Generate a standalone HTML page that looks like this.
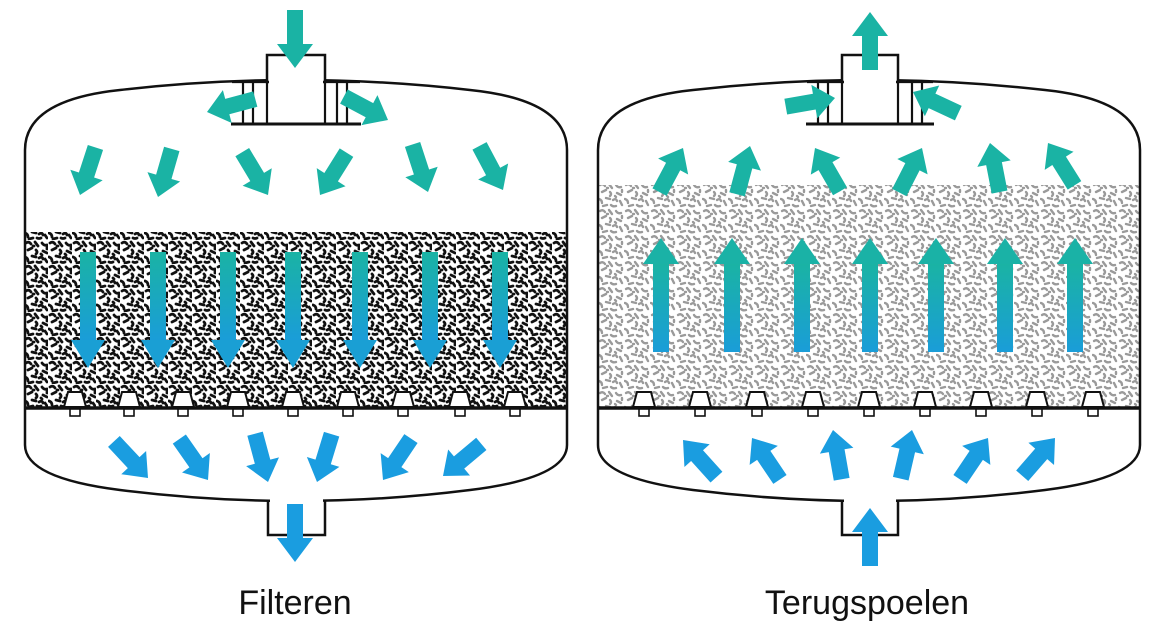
<!DOCTYPE html>
<html><head><meta charset="utf-8"><style>
html,body{margin:0;padding:0;background:#fff;}
svg{display:block}
</style></head><body>
<svg width="1170" height="627" viewBox="0 0 1170 627" xmlns="http://www.w3.org/2000/svg">
<defs>
<pattern id="pd" width="24" height="24" patternUnits="userSpaceOnUse">
<g fill="none" stroke="#111" stroke-width="2.8" stroke-linecap="round">
<path d="M2,3 q3,-2 5,1"/><path d="M11,2 l3,4"/><path d="M18,3 q2,3 5,2"/><path d="M4,10 l4,-2"/>
<path d="M12,10 q2,2 0,4"/><path d="M19,11 l4,2"/><path d="M1,17 q3,1 3,4"/><path d="M8,16 l4,1"/>
<path d="M15,18 q3,-2 4,1"/><path d="M21,19 l2,3"/><path d="M5,23 l4,-1"/><path d="M13,22 q2,1 4,0"/>
<path d="M9,6 l1,0"/><path d="M23,7 l0,2"/><path d="M17,14 l1,1"/>
</g></pattern>
<pattern id="pl" width="26" height="26" patternUnits="userSpaceOnUse">
<g fill="none" stroke="#9a9a9a" stroke-width="2.4" stroke-linecap="round">
<path d="M2,3 q3,-2 5,1"/><path d="M11,2 l3,4"/><path d="M18,3 q2,3 5,2"/><path d="M4,10 l4,-2"/>
<path d="M12,10 q2,2 0,4"/><path d="M19,11 l4,2"/><path d="M1,17 q3,1 3,4"/><path d="M8,16 l4,1"/>
<path d="M15,18 q3,-2 4,1"/><path d="M22,19 l2,4"/><path d="M5,24 l4,-1"/><path d="M13,23 q2,2 5,1"/>
<path d="M9,6 l1,0"/><path d="M24,8 l0,2"/><path d="M17,14 l1,1"/>
</g></pattern>
<linearGradient id="gd" x1="0" y1="0" x2="0" y2="1"><stop offset="0" stop-color="#1ab3a4"/><stop offset="1" stop-color="#1a9dd8"/></linearGradient>
<linearGradient id="gu" x1="0" y1="1" x2="0" y2="0"><stop offset="0" stop-color="#1a9dd8"/><stop offset="1" stop-color="#1ab3a4"/></linearGradient>
<polygon id="s" points="-50,-8 -21,-8 -21,-17 0,0 -21,17 -21,8 -50,8"/>
<polygon id="sl" points="-58,-8 -24,-8 -24,-18 0,0 -24,18 -24,8 -58,8"/>
<g id="ld"><rect x="-8" y="0" width="16" height="88" fill="url(#gd)"/><polygon points="-17,88 17,88 0,116" fill="#1a9fd4"/></g>
<g id="lu"><rect x="-8" y="26" width="16" height="88" fill="url(#gu)"/><polygon points="-18,26 18,26 0,0" fill="#1ab2a6"/></g>
<g id="nz"><polygon points="-11,407 11,407 7,392 -7,392" fill="#fff" stroke="#111" stroke-width="2"/><rect x="-5" y="409" width="10" height="7" fill="#fff" stroke="#111" stroke-width="1.6"/></g>
</defs>

<!-- LEFT TANK -->
<rect x="25" y="232" width="542" height="176" fill="url(#pd)"/>
<path d="M25,445 V150 Q25,100 120,90 Q295,70 470,90 Q567,100 567,150 V445 Q567,478 470,490 Q295,512 120,490 Q25,478 25,445 Z" fill="none" stroke="#111" stroke-width="2.5"/>
<rect x="267" y="55" width="58" height="27" fill="#fff" stroke="#111" stroke-width="2.5"/>
<rect x="269" y="78" width="54" height="6" fill="#fff"/>
<path d="M232,82 H267 M325,82 H360 M243,82 V124 M253,82 V124 M337,82 V124 M347,82 V124 M267,82 V124 M325,82 V124" stroke="#111" stroke-width="2.2"/>
<path d="M231,124 H361" stroke="#111" stroke-width="3"/>
<rect x="270" y="494" width="53" height="12" fill="#fff"/>
<path d="M268,500 V535 H325 V500" fill="none" stroke="#111" stroke-width="2.5"/>
<path d="M25,408 H567" stroke="#111" stroke-width="3.5"/>
<g><use href="#nz" x="75"/><use href="#nz" x="129"/><use href="#nz" x="183"/><use href="#nz" x="238"/><use href="#nz" x="293"/><use href="#nz" x="348"/><use href="#nz" x="403"/><use href="#nz" x="460"/><use href="#nz" x="515"/></g>
<g fill="#1ab3a4">
<use href="#sl" transform="translate(295,68) rotate(90)"/>
<use href="#s" transform="translate(207,112) rotate(165)"/>
<use href="#s" transform="translate(388,120) rotate(28)"/>
<use href="#s" transform="translate(80,195) rotate(108)"/>
<use href="#s" transform="translate(158,197) rotate(106)"/>
<use href="#s" transform="translate(268,195) rotate(59)"/>
<use href="#s" transform="translate(320,195) rotate(122)"/>
<use href="#s" transform="translate(428,192) rotate(72)"/>
<use href="#s" transform="translate(503,190) rotate(62)"/>
</g>
<g><use href="#ld" x="88" y="252"/><use href="#ld" x="158" y="252"/><use href="#ld" x="228" y="252"/><use href="#ld" x="293" y="252"/><use href="#ld" x="360" y="252"/><use href="#ld" x="430" y="252"/><use href="#ld" x="500" y="252"/></g>
<g fill="#1a9de0">
<use href="#s" transform="translate(148,478) rotate(47)"/>
<use href="#s" transform="translate(208,480) rotate(55)"/>
<use href="#s" transform="translate(268,482) rotate(75)"/>
<use href="#s" transform="translate(317,482) rotate(107)"/>
<use href="#s" transform="translate(383,480) rotate(124)"/>
<use href="#s" transform="translate(443,476) rotate(140)"/>
<use href="#sl" transform="translate(295,562) rotate(90)"/>
</g>

<!-- RIGHT TANK -->
<rect x="598" y="185" width="542" height="223" fill="url(#pl)"/>
<path d="M598,445 V150 Q598,100 693,90 Q869,70 1045,90 Q1140,100 1140,150 V445 Q1140,478 1045,490 Q869,512 693,490 Q598,478 598,445 Z" fill="none" stroke="#111" stroke-width="2.5"/>
<rect x="842" y="55" width="56" height="27" fill="#fff" stroke="#111" stroke-width="2.5"/>
<rect x="844" y="78" width="52" height="6" fill="#fff"/>
<path d="M807,82 H842 M898,82 H933 M818,82 V124 M828,82 V124 M912,82 V124 M922,82 V124 M842,82 V124 M898,82 V124" stroke="#111" stroke-width="2.2"/>
<path d="M806,124 H934" stroke="#111" stroke-width="3"/>
<rect x="844" y="494" width="52" height="12" fill="#fff"/>
<path d="M842,500 V535 H898 V500" fill="none" stroke="#111" stroke-width="2.5"/>
<path d="M598,408 H1140" stroke="#111" stroke-width="3.5"/>
<g><use href="#nz" x="644"/><use href="#nz" x="700"/><use href="#nz" x="757"/><use href="#nz" x="813"/><use href="#nz" x="869"/><use href="#nz" x="925"/><use href="#nz" x="981"/><use href="#nz" x="1037"/><use href="#nz" x="1093"/></g>
<g fill="#1ab3a4">
<use href="#sl" transform="translate(870,12) rotate(-90)"/>
<use href="#s" transform="translate(835,98) rotate(-10)"/>
<use href="#s" transform="translate(913,92) rotate(-155)"/>
<use href="#s" transform="translate(683,148) rotate(-62)"/>
<use href="#s" transform="translate(750,146) rotate(-75)"/>
<use href="#s" transform="translate(815,148) rotate(-120)"/>
<use href="#s" transform="translate(922,148) rotate(-63)"/>
<use href="#s" transform="translate(990,143) rotate(-101)"/>
<use href="#s" transform="translate(1048,143) rotate(-122)"/>
</g>
<g><use href="#lu" x="661" y="238"/><use href="#lu" x="732" y="238"/><use href="#lu" x="802" y="238"/><use href="#lu" x="870" y="238"/><use href="#lu" x="936" y="238"/><use href="#lu" x="1005" y="238"/><use href="#lu" x="1075" y="238"/></g>
<g fill="#1a9de0">
<use href="#s" transform="translate(683,440) rotate(-132)"/>
<use href="#s" transform="translate(752,438) rotate(-124)"/>
<use href="#s" transform="translate(833,430) rotate(-100)"/>
<use href="#s" transform="translate(912,430) rotate(-77)"/>
<use href="#s" transform="translate(988,438) rotate(-56)"/>
<use href="#s" transform="translate(1055,438) rotate(-49)"/>
<use href="#sl" transform="translate(870,508) rotate(-90)"/>
</g>

<text x="295" y="614" text-anchor="middle" font-family="Liberation Sans, sans-serif" font-size="34" fill="#111">Filteren</text>
<text x="867" y="614" text-anchor="middle" font-family="Liberation Sans, sans-serif" font-size="34" fill="#111">Terugspoelen</text>
</svg>
</body></html>
